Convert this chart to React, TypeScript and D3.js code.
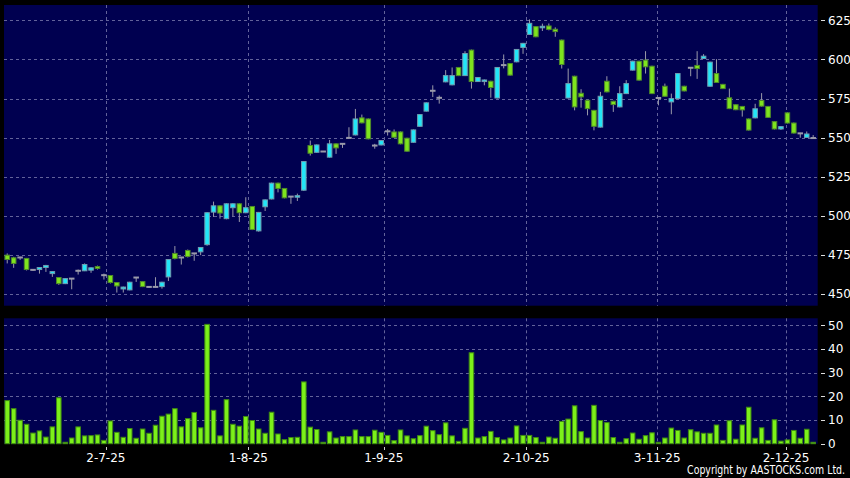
import React, { useLayoutEffect, useRef, useState } from "react";
import * as d3 from "d3";

const opens = [
  475.0, 473.3, 473.5, 472.9, 465.6, 465.8, 467.1, 463.2, 460.7, 456.8,
  460.0, 465.0, 465.0, 465.4, 467.7, 462.2, 462.0, 457.5, 453.4, 452.8,
  460.7, 458.1, 454.7, 454.7, 454.9, 461.1, 476.1, 473.5, 478.0, 476.1,
  477.1, 481.7, 502.5, 506.5, 498.3, 505.3, 507.8, 502.1, 506.1, 490.5,
  505.9, 510.9, 521.0, 517.6, 512.4, 512.0, 516.5, 545.0, 540.7, 541.2,
  537.6, 546.1, 546.1, 549.9, 551.8, 562.7, 562.0, 545.0, 545.4, 554.1,
  553.7, 553.7, 549.7, 547.1, 557.3, 567.0, 580.0, 575.5, 585.7, 583.8,
  594.9, 589.7, 606.0, 585.9, 585.9, 586.1, 575.4, 596.4, 597.4, 598.5,
  607.7, 616.0, 621.0, 620.3, 621.4, 619.3, 612.4, 575.4, 589.3, 578.4,
  573.9, 567.5, 556.8, 586.1, 573.3, 569.7, 578.2, 593.2, 598.9, 599.6,
  595.7, 575.4, 582.9, 572.9, 575.0, 582.9, 594.7, 596.2, 600.6, 582.9,
  591.0, 584.1, 575.5, 571.1, 570.0, 562.0, 562.7, 573.8, 570.0, 560.3,
  555.6, 565.9, 559.4, 552.8, 550.2, 549.8,
];
const highs = [
  476.1, 473.9, 474.0, 473.2, 466.0, 467.4, 468.8, 464.8, 461.0, 460.3,
  460.3, 465.8, 469.7, 467.2, 468.3, 463.2, 462.3, 457.8, 454.9, 458.0,
  461.0, 458.4, 455.0, 460.9, 458.0, 472.5, 480.8, 473.8, 478.6, 476.4,
  480.2, 502.4, 509.2, 506.8, 508.1, 508.1, 508.1, 512.0, 506.4, 502.6,
  510.6, 521.3, 521.3, 517.9, 512.7, 514.3, 535.1, 548.2, 545.7, 541.5,
  548.6, 546.4, 546.4, 556.7, 568.4, 564.8, 562.3, 546.1, 548.5, 555.6,
  555.3, 554.0, 550.0, 555.3, 565.1, 572.6, 583.5, 577.0, 593.2, 594.9,
  595.2, 605.3, 606.3, 588.8, 587.2, 586.4, 595.2, 603.2, 597.7, 606.7,
  610.6, 625.6, 621.3, 622.9, 623.0, 620.5, 612.7, 594.2, 589.6, 581.0,
  574.2, 567.8, 579.3, 589.3, 573.6, 582.9, 586.8, 599.2, 599.2, 605.3,
  596.0, 575.7, 584.6, 578.2, 591.3, 583.2, 595.0, 605.3, 603.4, 598.6,
  600.2, 584.4, 581.4, 571.4, 570.3, 562.3, 571.7, 578.5, 570.3, 560.6,
  557.4, 566.2, 559.7, 553.1, 554.0, 551.7,
];
const lows = [
  469.7, 466.9, 472.0, 465.2, 465.0, 463.2, 464.3, 461.1, 456.0, 456.5,
  453.2, 462.6, 464.8, 463.7, 465.8, 459.4, 456.9, 451.1, 451.1, 452.5,
  457.9, 454.6, 454.3, 454.4, 453.6, 458.5, 472.3, 469.0, 473.5, 471.4,
  475.0, 481.0, 499.4, 498.3, 497.9, 499.8, 496.2, 501.8, 491.0, 490.0,
  503.2, 510.6, 515.1, 511.3, 507.8, 509.6, 516.0, 538.6, 540.4, 540.9,
  537.3, 539.7, 543.5, 549.6, 551.5, 559.2, 549.0, 543.0, 545.1, 551.4,
  550.0, 545.8, 541.1, 546.8, 557.0, 566.7, 576.0, 571.8, 585.4, 583.5,
  589.4, 589.4, 581.4, 585.6, 583.5, 575.6, 575.1, 594.3, 589.7, 598.2,
  603.6, 615.7, 614.2, 618.2, 618.6, 614.5, 594.2, 575.1, 567.5, 569.2,
  564.3, 554.7, 556.5, 579.0, 566.5, 569.4, 577.9, 592.9, 586.5, 591.0,
  577.9, 570.7, 576.2, 565.0, 574.7, 579.6, 589.3, 587.6, 600.3, 582.6,
  585.0, 581.1, 568.3, 567.6, 563.5, 554.6, 562.4, 569.9, 562.7, 555.3,
  555.0, 559.1, 552.7, 550.0, 549.9, 549.5,
];
const closes = [
  472.2, 469.7, 473.5, 465.8, 465.6, 467.1, 468.4, 464.5, 456.8, 460.0,
  460.0, 465.0, 469.0, 466.9, 466.5, 462.2, 457.5, 455.3, 454.6, 457.7,
  460.7, 454.9, 454.7, 454.7, 457.7, 472.2, 472.9, 473.5, 474.1, 476.1,
  479.9, 502.1, 506.5, 501.9, 507.8, 507.8, 502.1, 505.3, 491.4, 502.3,
  510.3, 521.0, 517.6, 511.6, 512.4, 513.0, 534.8, 540.1, 545.4, 541.2,
  546.1, 543.5, 546.1, 549.9, 562.0, 559.5, 549.3, 545.0, 548.2, 554.1,
  550.3, 546.1, 541.4, 555.0, 564.8, 572.3, 580.0, 575.5, 589.7, 589.7,
  589.7, 603.8, 585.9, 588.5, 586.9, 582.1, 594.9, 596.4, 590.0, 606.4,
  610.3, 623.1, 614.5, 621.2, 619.2, 617.8, 596.8, 584.6, 569.7, 576.1,
  568.6, 557.3, 576.5, 579.3, 571.2, 578.2, 584.6, 598.9, 586.8, 595.3,
  578.2, 575.4, 576.5, 575.0, 591.0, 579.9, 594.7, 594.2, 602.1, 598.3,
  585.3, 581.4, 568.6, 567.9, 567.8, 554.9, 568.5, 570.2, 563.0, 555.6,
  557.1, 559.4, 553.0, 552.8, 552.4, 549.8,
];
const volumes = [
  18.2, 14.8, 9.9, 8.2, 4.5, 5.4, 2.8, 7.1, 19.4, 0.6,
  2.4, 7.1, 3.3, 3.4, 3.7, 1.4, 9.6, 4.8, 2.7, 6.4,
  2.3, 6.2, 4.4, 7.8, 11.6, 12.5, 14.8, 7.1, 10.6, 13.2,
  6.7, 50.4, 14.1, 3.3, 18.6, 8.2, 7.4, 11.5, 9.8, 6.2,
  4.4, 13.3, 4.1, 1.7, 2.6, 2.7, 26.1, 7.0, 6.0, 0.6,
  5.0, 2.4, 3.0, 3.0, 5.8, 3.0, 3.0, 5.7, 4.8, 3.5,
  1.3, 5.8, 3.3, 2.1, 3.4, 7.4, 5.5, 3.8, 8.8, 3.3,
  1.0, 6.5, 38.4, 2.4, 3.0, 5.2, 2.6, 1.6, 2.4, 7.5,
  3.5, 3.5, 2.6, 0.6, 2.8, 2.3, 9.4, 10.4, 16.0, 5.1,
  2.4, 16.2, 9.8, 8.9, 2.6, 0.6, 2.1, 4.5, 1.9, 3.4,
  4.6, 0.6, 2.4, 6.6, 5.6, 2.4, 5.9, 5.0, 4.4, 4.4,
  7.9, 1.4, 9.7, 1.9, 7.9, 15.4, 2.3, 6.7, 1.4, 10.1,
  1.1, 1.6, 5.6, 2.3, 6.1, 0.6,
];
const xTickPositions = [15.3, 37.4, 58.4, 80.5, 100.8, 120.8];
const xTickLabels = ["2-7-25", "1-8-25", "1-9-25", "2-10-25", "3-11-25", "2-12-25"];
const priceTicks = [450, 475, 500, 525, 550, 575, 600, 625];
const volumeTicks = [0, 10, 20, 30, 40, 50];
const copyrightText = "Copyright by AASTOCKS.com Ltd.";

const W = 850;
const H = 478;
const PANEL_L = 4;
const PANEL_R = 817.7;
const P_TOP = 5;
const P_BOT = 305.7;
const V_TOP = 318.3;
const V_BOT = 443.7;

const NAVY = "#000050";
const GRID = "#62629a";
const UP_FILL = "#22e6f8";
const UP_STROKE = "#6f9db0";
const DN_FILL = "#7ee41e";
const DN_STROKE = "#4f8a2a";
const DOJI = "#9a9aaa";
const WICK = "#9a9aaa";
const VOL_FILL = "#7cf01a";
const VOL_STROKE = "#3f8a12";
const FONT = "'DejaVu Sans', sans-serif";

function Copyright() {
  const ref = useRef<SVGTextElement>(null);
  const [sx, setSx] = useState(0.72);
  useLayoutEffect(() => {
    if (ref.current) {
      const len = ref.current.getComputedTextLength();
      if (len > 0) setSx(158 / len);
    }
  }, []);
  return (
    <g transform={`translate(845,474.3) scale(${sx},1)`}>
      <text ref={ref} x={0} y={0} textAnchor="end" fill="#fff" fontSize={11.5} fontFamily={FONT}>
        {copyrightText}
      </text>
    </g>
  );
}

export default function App() {
  const n = closes.length;
  const x = d3.scaleLinear().domain([-0.5, n - 0.3]).range([PANEL_L, PANEL_R]);
  const y = d3.scaleLinear().domain([442.7, 634.8]).range([P_BOT, P_TOP]);
  const yv = d3.scaleLinear().domain([0, 52.96]).range([V_BOT, V_TOP]);
  const step = x(1) - x(0);
  const bw = step * 0.86;

  const idx = d3.range(n);

  return (
    <svg
      width={W}
      height={H}
      style={{ position: "absolute", left: 0, top: 0, background: "#000" }}
    >
      <rect x={0} y={0} width={W} height={H} fill="#000" />
      <rect x={PANEL_L} y={P_TOP} width={PANEL_R - PANEL_L} height={P_BOT - P_TOP} fill={NAVY} />
      <rect x={PANEL_L} y={V_TOP} width={PANEL_R - PANEL_L} height={V_BOT - V_TOP} fill={NAVY} />

      {priceTicks.map((t) => (
        <line
          key={"pg" + t}
          x1={PANEL_L}
          x2={PANEL_R}
          y1={Math.round(y(t)) + 0.5}
          y2={Math.round(y(t)) + 0.5}
          stroke={GRID}
          strokeDasharray="3,3"
        />
      ))}
      {volumeTicks.filter((t) => t > 0).map((t) => (
        <line
          key={"vg" + t}
          x1={PANEL_L}
          x2={PANEL_R}
          y1={Math.round(yv(t)) + 0.5}
          y2={Math.round(yv(t)) + 0.5}
          stroke={GRID}
          strokeDasharray="3,3"
        />
      ))}
      {xTickPositions.map((p, k) => (
        <g key={"xg" + k}>
          <line
            x1={Math.round(x(p)) + 0.5}
            x2={Math.round(x(p)) + 0.5}
            y1={P_TOP}
            y2={P_BOT}
            stroke={GRID}
            strokeDasharray="3,3"
          />
          <line
            x1={Math.round(x(p)) + 0.5}
            x2={Math.round(x(p)) + 0.5}
            y1={V_TOP}
            y2={V_BOT}
            stroke={GRID}
            strokeDasharray="3,3"
          />
        </g>
      ))}

      {idx.map((i) => {
        const o = opens[i];
        const c = closes[i];
        const cx = x(i);
        const top = y(Math.max(o, c));
        const bot = y(Math.min(o, c));
        const isUp = c > o;
        const isDn = c < o;
        return (
          <g key={"c" + i}>
            <line x1={cx} x2={cx} y1={y(highs[i])} y2={y(lows[i])} stroke={WICK} strokeWidth={1} />
            {isUp || isDn ? (
              <rect
                x={cx - bw / 2 + 0.5}
                y={top}
                width={bw - 1}
                height={Math.max(bot - top, 1.5)}
                fill={isUp ? UP_FILL : DN_FILL}
                stroke={isUp ? UP_STROKE : DN_STROKE}
                strokeWidth={1}
              />
            ) : (
              <rect x={cx - bw / 2} y={top - 1} width={bw} height={2} fill={DOJI} />
            )}
          </g>
        );
      })}

      {idx.map((i) => (
        <rect
          key={"v" + i}
          x={x(i) - bw / 2 + 0.5}
          y={yv(volumes[i])}
          width={bw - 1}
          height={Math.max(V_BOT - yv(volumes[i]), 0.5)}
          fill={VOL_FILL}
          stroke={VOL_STROKE}
          strokeWidth={1}
        />
      ))}

      {priceTicks.map((t) => (
        <g key={"pl" + t}>
          <line x1={821} x2={825} y1={Math.round(y(t)) + 0.5} y2={Math.round(y(t)) + 0.5} stroke="#ddd" />
          <text x={828} y={y(t)} dy="0.35em" fill="#fff" fontSize={12} fontFamily={FONT}>
            {t}
          </text>
        </g>
      ))}
      {volumeTicks.map((t) => (
        <g key={"vl" + t}>
          <line x1={821} x2={825} y1={Math.round(yv(t)) + 0.5} y2={Math.round(yv(t)) + 0.5} stroke="#ddd" />
          <text x={828} y={yv(t)} dy="0.35em" fill="#fff" fontSize={12} fontFamily={FONT}>
            {t}
          </text>
        </g>
      ))}

      {xTickPositions.map((p, k) => (
        <g key={"xl" + k}>
          <line x1={Math.round(x(p)) + 0.5} x2={Math.round(x(p)) + 0.5} y1={447} y2={450} stroke="#ccc" />
          <text x={x(p)} y={462} textAnchor="middle" fill="#fff" fontSize={12} fontFamily={FONT}>
            {xTickLabels[k]}
          </text>
        </g>
      ))}

      <Copyright />
    </svg>
  );
}
